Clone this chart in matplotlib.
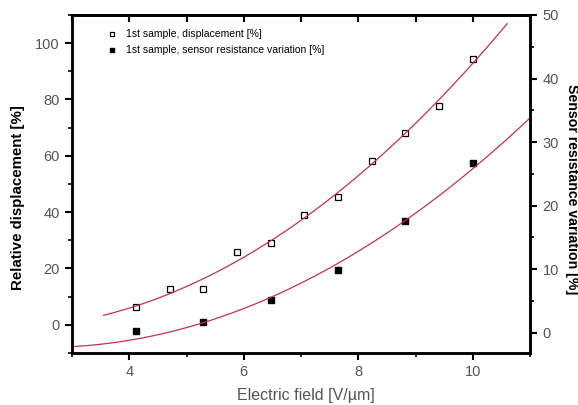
import numpy as np
import matplotlib.pyplot as plt
from matplotlib.ticker import MultipleLocator

# data
field = [4.12, 4.71, 5.29, 5.88, 6.47, 7.06, 7.65, 8.24, 8.82, 9.41, 10.0]
displacement = [6.2, 12.8, 12.8, 25.9, 29.1, 39.0, 45.3, 58.2, 68.2, 77.8, 94.2]

field_res = [4.12, 5.29, 6.47, 7.65, 8.82, 10.0]
resistance = [0.3, 1.7, 5.2, 9.9, 17.6, 26.7]

# fitted curve of the resistance, coefficients
res_fit = [0.5, -2.5, 0.8]

fit_color = '#c4304e'
grey = '#555555'

plt.rcParams['font.family'] = ['Liberation Sans', 'DejaVu Sans']

fig = plt.figure(figsize=(5.78, 4.05), dpi=100)
ax = fig.add_axes([0.1246, 0.1284, 0.7924, 0.8346])
ax2 = ax.twinx()

ax.plot(field, displacement, 's', mfc='white', mec='black', ms=5, mew=0.9,
        linestyle='none', label='1st sample, displacement [%]')
ax2.plot(field_res, resistance, 's', mfc='black', mec='black', ms=5,
         linestyle='none', label='1st sample, sensor resistance variation [%]')

# quadratic fit of the displacement
p1 = np.polyfit(field, displacement, 2)
xf1 = np.linspace(3.55, 10.6, 200)
ax.plot(xf1, np.polyval(p1, xf1), color=fit_color, lw=0.9)

xf2 = np.linspace(3.0, 11.0, 200)
ax2.plot(xf2, np.polyval(res_fit, xf2), color=fit_color, lw=0.9)

ax.set_xlim(3, 11)
ax.set_ylim(-10, 110)
ax2.set_ylim(-3.2, 50)

ax.xaxis.set_major_locator(MultipleLocator(2))
ax.xaxis.set_minor_locator(MultipleLocator(1))
ax.yaxis.set_major_locator(MultipleLocator(20))
ax.yaxis.set_minor_locator(MultipleLocator(10))
ax2.yaxis.set_major_locator(MultipleLocator(10))
ax2.yaxis.set_minor_locator(MultipleLocator(5))

for a in (ax, ax2):
    for s in a.spines.values():
        s.set_linewidth(1.8)

ax.tick_params(axis='both', which='major', direction='out', length=5, width=1.5,
               labelsize=10.5, labelcolor=grey, top=False, pad=4)
ax.tick_params(axis='both', which='minor', direction='out', length=3, width=1.2, top=False)
ax2.tick_params(axis='y', which='major', direction='out', length=5, width=1.5,
                labelsize=10.5, labelcolor=grey, pad=4)
ax2.tick_params(axis='y', which='minor', direction='out', length=3, width=1.2)

# inward ticks along the top edge
top = ax.secondary_xaxis('top')
top.xaxis.set_major_locator(MultipleLocator(1))
top.tick_params(direction='in', length=5, width=1.5, labeltop=False)
top.spines['top'].set_linewidth(1.8)

ax.set_xlabel('Electric field [V/µm]', fontsize=11.5, color=grey)
ax.xaxis.set_label_coords(0.51, -0.103)
ax.set_ylabel('Relative displacement [%]', fontsize=10.8, fontweight='bold')
ax.yaxis.set_label_coords(-0.103, 0.459)
fig.text(0.989, (405 - 189) / 405, 'Sensor resistance variation [%]',
         fontsize=10.2, fontweight='bold', rotation=270, ha='center', va='center')

h1, l1 = ax.get_legend_handles_labels()
h2, l2 = ax2.get_legend_handles_labels()
ax.legend(h1 + h2, l1 + l2, loc='upper left', bbox_to_anchor=(0.055, 0.985),
          frameon=False, fontsize=7.5, handletextpad=0.9, markerscale=0.65,
          labelspacing=0.55, handlelength=1.0)

fig.savefig('out.png', dpi=100)
